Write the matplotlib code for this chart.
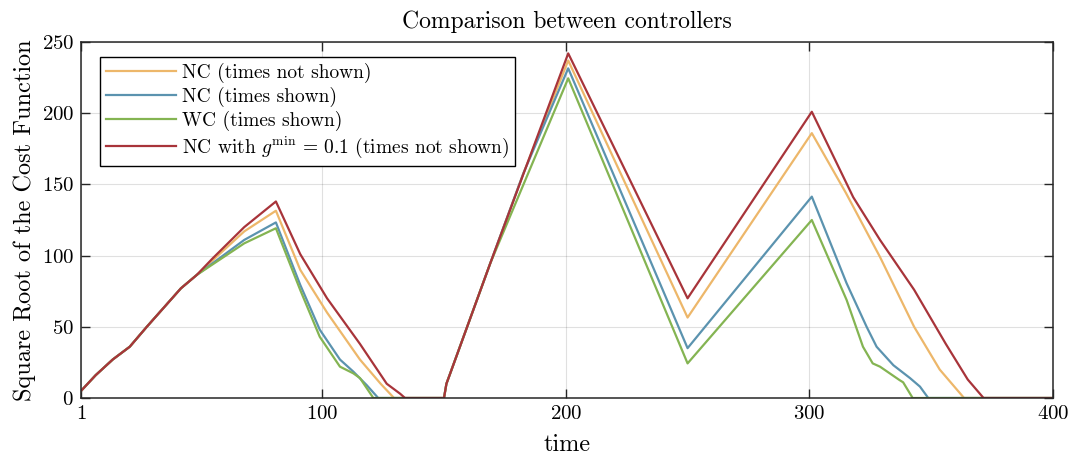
import matplotlib
matplotlib.use("Agg")
import matplotlib.pyplot as plt

# knots (time, sqrt cost)
nc_hidden_t = [1, 7, 14, 21, 28, 42, 48.5, 68, 81, 91, 102, 115.5, 124, 129.5,
               150, 151, 152.5, 169, 182.6, 201, 250, 301, 315, 329, 343, 353.5, 362.5, 363.5, 400]
nc_hidden_y = [5, 16, 27, 36, 50, 77, 86.4, 117, 131.5, 90, 60, 27, 10, 0,
               0, 10, 17, 94.6, 157.8, 237, 56.5, 186, 144, 99, 50, 20, 2, 0, 0]

nc_shown_t = [1, 7, 14, 21, 28, 42, 48.5, 68, 81, 91, 99, 107.3, 112.8, 118.3, 123,
              150, 151, 152.5, 169, 182.6, 201, 250, 301, 315.3, 323.5, 327.6, 334.5, 341.3, 345.4, 348.8, 400]
nc_shown_y = [5, 16, 27, 36, 50, 77, 86.4, 111, 123.3, 79.4, 48, 27, 18.5, 9, 0,
              0, 10, 17, 94.6, 157.8, 231.5, 35, 141.4, 80.5, 50, 36, 23, 14, 8, 0, 0]

wc_shown_t = [1, 7, 14, 21, 28, 42, 48.5, 68, 81, 91, 99, 107.3, 112.8, 115.5, 121,
              150, 151, 152.5, 169, 201, 250, 301, 315.3, 322, 326, 329, 333, 337, 338.5, 342.4, 400]
wc_shown_y = [5, 16, 27, 36, 50, 77, 86.4, 108.6, 119.2, 75.8, 43, 22, 17.3, 14, 0,
              0, 10, 17, 94.6, 224.5, 24.3, 125, 68.8, 36, 24.3, 22, 17.3, 12.6, 11, 0, 0]

nc_gmin_t = [1, 7, 14, 21, 28, 42, 48.5, 55, 68, 81, 91, 102, 115.5, 126.5, 132, 134,
             150, 151, 152.5, 169, 201, 250, 301, 318, 329, 343, 356, 365, 371.5, 400]
nc_gmin_y = [5, 16, 27, 36, 50, 77, 86.4, 98, 120, 138, 101, 70, 38, 10, 3, 0,
             0, 10, 17, 94.6, 242, 70, 201, 141, 111, 76, 38, 13, 0, 0]

series_labels = [
    "NC (times not shown)",
    "NC (times shown)",
    "WC (times shown)",
    r"NC with $g^{\mathrm{min}}\,=\,0.1$ (times not shown)",
]
series_colors = ["#EDB76A", "#5B93AF", "#84B452", "#A8343A"]

x_ticks = [1, 100, 200, 300, 400]
y_ticks = [0, 50, 100, 150, 200, 250]

plt.rcParams["font.family"] = "serif"
plt.rcParams["font.serif"] = ["cmr10"]
plt.rcParams["mathtext.fontset"] = "cm"
plt.rcParams["axes.formatter.use_mathtext"] = True
plt.rcParams["font.size"] = 15

fig = plt.figure(figsize=(10.76, 4.57), dpi=100)
ax = fig.add_axes([0.0753, 0.1291, 0.9033, 0.7790])

data = [(nc_hidden_t, nc_hidden_y), (nc_shown_t, nc_shown_y),
        (wc_shown_t, wc_shown_y), (nc_gmin_t, nc_gmin_y)]
for (t, y), lab, col in zip(data, series_labels, series_colors):
    ax.plot(t, y, color=col, lw=1.6, label=lab)

ax.set_xlim(1, 400)
ax.set_ylim(0, 250)
ax.set_xticks(x_ticks)
ax.set_yticks(y_ticks)
ax.grid(True, color="#000000", alpha=0.12, lw=0.8)
ax.tick_params(direction="in", length=6.5, width=1, top=True, right=True,
               labelsize=15, pad=5, color="#262626")
for s in ax.spines.values():
    s.set_linewidth(1.1)
    s.set_color("#262626")

ax.set_title("Comparison between controllers", fontsize=17, pad=10)
ax.set_xlabel("time", fontsize=17.5, labelpad=8)
ax.set_ylabel("Square Root of the Cost Function", fontsize=17.5, labelpad=4)

leg = ax.legend(loc="upper left", bbox_to_anchor=(0.0195, 0.958), borderaxespad=0,
                fancybox=False, edgecolor="black", framealpha=1, fontsize=14,
                handlelength=3.6, handletextpad=0.3, labelspacing=0.2, borderpad=0.3)
leg.get_frame().set_linewidth(1.0)

fig.savefig("out.png", dpi=100)
